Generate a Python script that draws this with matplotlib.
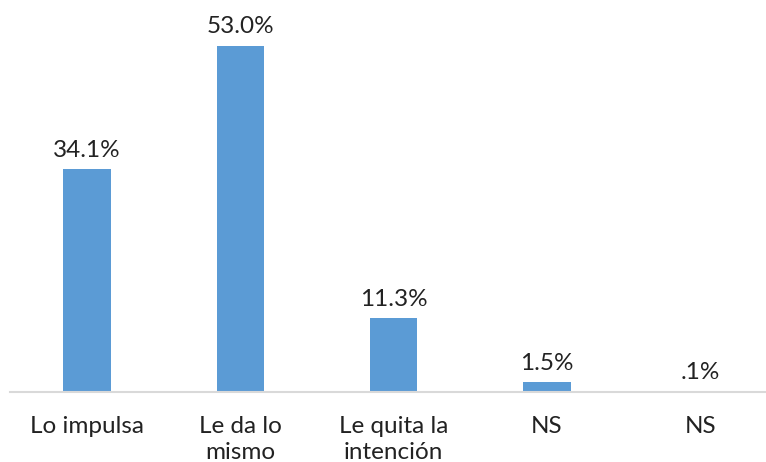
import matplotlib
matplotlib.use('Agg')
import matplotlib.pyplot as plt

categories = ['Lo impulsa', 'Le da lo\nmismo', 'Le quita la\nintención', 'NS', 'NS']
values = [34.1, 53.0, 11.3, 1.5, 0.1]
value_labels = ['34.1%', '53.0%', '11.3%', '1.5%', '.1%']

plt.rcParams['font.family'] = ['Lato', 'DejaVu Sans']

fig = plt.figure(figsize=(7.66, 4.62), dpi=100)
ax = fig.add_axes([10.4 / 766, 70 / 462, 766.3 / 766, 392 / 462])

x = range(len(categories))
ax.bar(x, values, width=0.31, color='#5B9BD5')
ax.set_ylim(0, 60)
ax.set_xlim(-0.5, len(categories) - 0.5)

for xi, v, lab in zip(x, values, value_labels):
    ax.annotate(lab, (xi, v), xytext=(0, 6), textcoords='offset points',
                ha='center', va='bottom', fontsize=17.5, color='#222222')

ax.set_xticks(list(x))
ax.set_xticklabels(categories, fontsize=17.5, color='#222222', linespacing=1.3)
ax.tick_params(axis='x', length=0, pad=17)
ax.set_yticks([])
for side in ['top', 'right', 'left']:
    ax.spines[side].set_visible(False)
ax.spines['bottom'].set_color('#D9D9D9')
ax.spines['bottom'].set_linewidth(1.5)

fig.savefig('out.png', dpi=100)
